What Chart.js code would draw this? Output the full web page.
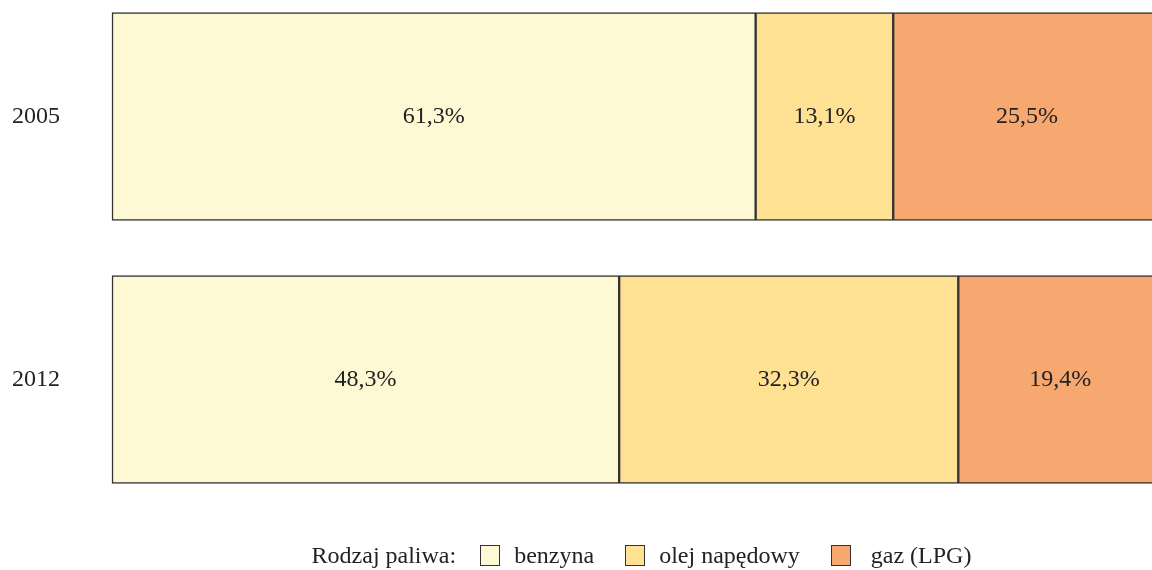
<!DOCTYPE html>
<html>
<head>
<meta charset="utf-8">
<script src="https://cdn.jsdelivr.net/npm/chart.js@4"></script>
<style>
  html, body { margin: 0; padding: 0; background: #fff; overflow: hidden; }
  #wrap { position: relative; width: 1162px; height: 570px; }
  #legend {
    position: absolute; left: 0; top: 540px; width: 1283px; height: 30px;
    display: flex; justify-content: center; align-items: center;
    font-family: "Liberation Serif", "Times New Roman", serif; font-size: 24px; color: #222;
  }
  #legend .title { margin-right: 24px; }
  #legend .box { width: 18px; height: 19px; border: 1.5px solid #333; margin-right: 14px; }
  #legend .item { display: flex; align-items: center; margin-right: 31px; }
  #legend .item:last-child { margin-right: 0; }
  #legend .item:last-child .box { margin-right: 20px; }
</style>
</head>
<body>
<div id="wrap">
  <canvas id="fuelChart"></canvas>
  <div id="legend"></div>
</div>
<script>
document.addEventListener('DOMContentLoaded', function () {
    const years = ['2005', '2012'];
    const fuels = ['benzyna', 'olej napędowy', 'gaz (LPG)'];
    const benzyna = [61.3, 48.3];
    const olej = [13.1, 32.3];
    const gaz = [25.5, 19.4];
    const colors = ['#fff8d5', '#ffe194', '#f7a870'];
    const series = [benzyna, olej, gaz];

    // draws the percentage in the middle of every segment
    const segmentLabels = {
        id: 'segmentLabels',
        afterDatasetsDraw(chart) {
            const c = chart.ctx;
            c.save();
            c.font = '24px "Liberation Serif", "Times New Roman", serif';
            c.fillStyle = '#222';
            c.textAlign = 'center';
            c.textBaseline = 'middle';
            chart.data.datasets.forEach((ds, i) => {
                chart.getDatasetMeta(i).data.forEach((bar, j) => {
                    const p = bar.getCenterPoint();
                    c.fillText(ds.data[j].toFixed(1).replace('.', ',') + '%', p.x, p.y);
                });
            });
            c.restore();
        }
    };

    const ctx = document.getElementById('fuelChart').getContext('2d');
    new Chart(ctx, {
        type: 'bar',
        data: {
            labels: years,
            datasets: fuels.map((name, i) => ({
                label: name,
                data: series[i],
                backgroundColor: colors[i],
                borderColor: '#333',
                borderWidth: 1.5,
                borderSkipped: false,
                barThickness: 208,
                clip: false
            }))
        },
        options: {
            indexAxis: 'y',
            responsive: true,
            maintainAspectRatio: false,
            animation: false,
            layout: { padding: { top: 116.5, bottom: 190.5, left: 0, right: 0 } },
            scales: {
                x: { stacked: true, display: false, min: 0, max: 100 },
                y: {
                    stacked: true,
                    offset: false,
                    grid: { display: false },
                    border: { display: false },
                    afterFit: function (scale) { scale.width = 112; },
                    ticks: {
                        padding: 44,
                        color: '#222',
                        font: { family: '"Liberation Serif", "Times New Roman", serif', size: 24 }
                    }
                }
            },
            plugins: {
                legend: { display: false },
                tooltip: { enabled: false }
            }
        },
        plugins: [segmentLabels]
    });

    // legend below the bars
    const legend = document.getElementById('legend');
    const title = document.createElement('span');
    title.className = 'title';
    title.textContent = 'Rodzaj paliwa:';
    legend.appendChild(title);
    fuels.forEach((name, i) => {
        const item = document.createElement('span');
        item.className = 'item';
        const box = document.createElement('span');
        box.className = 'box';
        box.style.backgroundColor = colors[i];
        item.appendChild(box);
        item.appendChild(document.createTextNode(name));
        legend.appendChild(item);
    });
});
</script>
</body>
</html>
